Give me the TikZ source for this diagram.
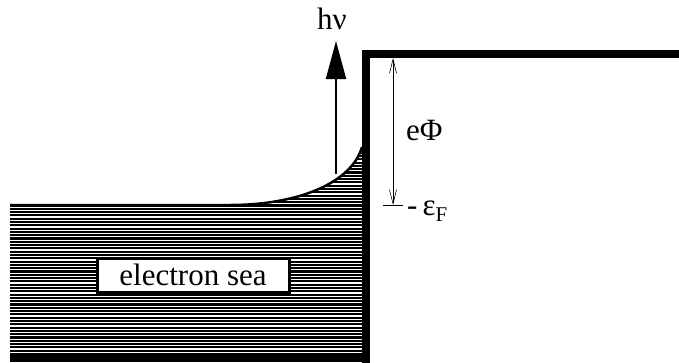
\documentclass[tikz,border=0pt]{standalone}
\usepackage{fontspec}
\setmainfont{Liberation Serif}
\usepackage{tikz}
\usetikzlibrary{arrows.meta, calc}

\begin{document}
\begin{tikzpicture}[
	x=1pt, y=-1pt,
	% Styles for the walls and the sea
	wall/.style={line width=8pt, line cap=rect},
	seaedge/.style={line width=2.5pt},
	hatch/.style={white, line width=1.2pt},
	% Arrow styles
	photon/.style={-{Triangle[length=38pt, width=20pt]}, line width=2pt},
	gap/.style={{Straight Barb[length=14pt, width=7pt]}-{Straight Barb[length=14pt, width=7pt]}, line width=0.6pt},
	% Text styles
	label/.style={font=\fontsize{31}{33}\selectfont, inner sep=1pt},
	seabox/.style={draw=black, line width=3pt, fill=white, inner sep=3pt, minimum width=192pt, minimum height=34pt, font=\fontsize{31}{33}\selectfont}
	]
	\useasboundingbox (0,0) rectangle (679,362);
	
	% --- ELECTRON SEA ---
	
	\begin{scope}
		\clip (10,205) -- (230,205) .. controls (300,205) and (352,182) .. (362,147) -- (362,362) -- (10,362) -- cycle;
		\fill[black] (0,140) rectangle (370,362);
		\foreach \y in {151,154.3,...,354} {
			\draw[hatch] (10,\y) -- (362,\y);
		}
	\end{scope}
	\draw[seaedge] (10,205) -- (230,205) .. controls (300,205) and (352,182) .. (362,147);
	
	% Label in the sea
	\node[seabox] (sea) at (193,275) {electron sea};
	
	% --- METAL SURFACE ---
	
	\draw[wall] (366,362) -- (366,54) -- (679,54);
	
	% --- PHOTON ---
	
	\coordinate (emit) at (336,174);
	\coordinate (tip) at (336,41);
	\draw[photon] (emit) -- (tip);
	\node[label] (hv) at (332,19) {hν};
	
	% --- WORK FUNCTION ---
	
	\coordinate (vac) at (393,58);
	\coordinate (fermi) at (393,205);
	\draw[gap] (fermi) -- (vac);
	\draw[line width=1pt] ($(fermi)+(-10,0)$) -- ($(fermi)+(10,0)$);
	\node[label, anchor=west] (phi) at (405,130) {eΦ};
	\node[label, anchor=west] (ef) at (406,211) {-\,ε\raisebox{-0.45ex}{\fontsize{21}{21}\selectfont F}};
	
\end{tikzpicture}
\end{document}
